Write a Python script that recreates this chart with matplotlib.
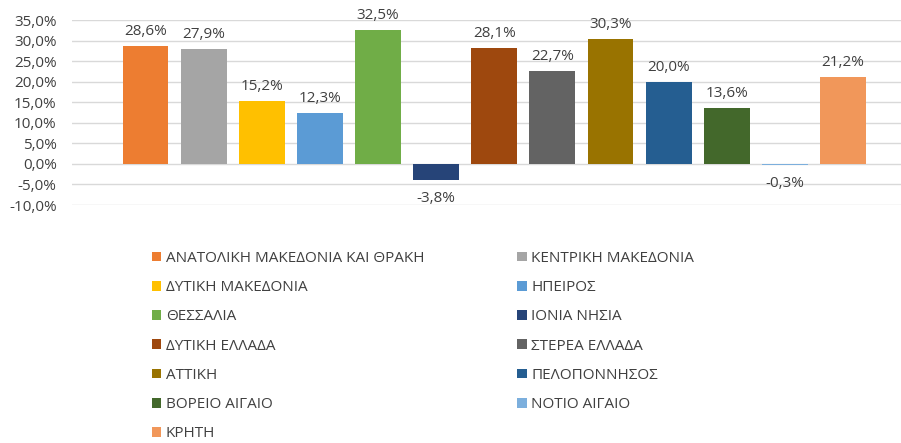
import matplotlib
matplotlib.use("Agg")
import matplotlib.pyplot as plt
from matplotlib.patches import Patch
from matplotlib.ticker import FuncFormatter, MultipleLocator

plt.rcParams['font.family'] = ['Open Sans', 'DejaVu Sans']

regions = ["ΑΝΑΤΟΛΙΚΗ ΜΑΚΕΔΟΝΙΑ ΚΑΙ ΘΡΑΚΗ", "ΚΕΝΤΡΙΚΗ ΜΑΚΕΔΟΝΙΑ", "ΔΥΤΙΚΗ ΜΑΚΕΔΟΝΙΑ",
           "ΗΠΕΙΡΟΣ", "ΘΕΣΣΑΛΙΑ", "ΙΟΝΙΑ ΝΗΣΙΑ", "ΔΥΤΙΚΗ ΕΛΛΑΔΑ", "ΣΤΕΡΕΑ ΕΛΛΑΔΑ",
           "ΑΤΤΙΚΗ", "ΠΕΛΟΠΟΝΝΗΣΟΣ", "ΒΟΡΕΙΟ ΑΙΓΑΙΟ", "ΝΟΤΙΟ ΑΙΓΑΙΟ", "ΚΡΗΤΗ"]
values = [28.6, 27.9, 15.2, 12.3, 32.5, -3.8, 28.1, 22.7, 30.3, 20.0, 13.6, -0.3, 21.2]
colors = ["#ED7D31", "#A5A5A5", "#FFC000", "#5B9BD5", "#70AD47", "#264478", "#9E480E",
          "#636363", "#997300", "#255E91", "#43682B", "#7CAFDD", "#F1975A"]

W, H = 901, 443
fig = plt.figure(figsize=(W / 100, H / 100), dpi=100)
ax = fig.add_axes([72 / W, (H - 205) / H, (901 - 72) / W, 185 / H])

x = list(range(len(values)))
bars = ax.bar(x, values, width=0.79, color=colors, zorder=3)

ax.set_ylim(-10, 35)
ax.set_xlim(-1.265, 12.998)
ax.yaxis.set_major_locator(MultipleLocator(5))
ax.yaxis.set_major_formatter(FuncFormatter(lambda v, p: f"{v:.1f}%".replace(".", ",")))
ax.grid(axis='y', color='#D9D9D9', linewidth=1, zorder=0)
ax.set_xticks([])
for s in ax.spines.values():
    s.set_visible(False)
ax.tick_params(axis='y', length=0, labelsize=11, pad=11, colors='#404040')

for xi, v in zip(x, values):
    lbl = f"{v:.1f}%".replace(".", ",")
    if v >= 0:
        ax.annotate(lbl, (xi, v), xytext=(0, 5), textcoords='offset points',
                    ha='center', va='bottom', fontsize=11, color='#404040')
    else:
        ax.annotate(lbl, (xi, v), xytext=(0, -8), textcoords='offset points',
                    ha='center', va='top', fontsize=11, color='#404040')

handles = [Patch(facecolor=c, edgecolor='none') for c in colors]
order = [0, 2, 4, 6, 8, 10, 12, 1, 3, 5, 7, 9, 11]
leg = fig.legend([handles[i] for i in order], [regions[i] for i in order],
                 ncol=2, loc='upper left', bbox_to_anchor=(152 / W, 1 - 251 / H),
                 frameon=False, fontsize=11, handlelength=0.6, handleheight=0.6,
                 handletextpad=0.3, labelspacing=0.93, columnspacing=6.1,
                 borderaxespad=0, borderpad=0)
for t in leg.get_texts():
    t.set_color('#404040')

fig.savefig("out.png", dpi=100)
